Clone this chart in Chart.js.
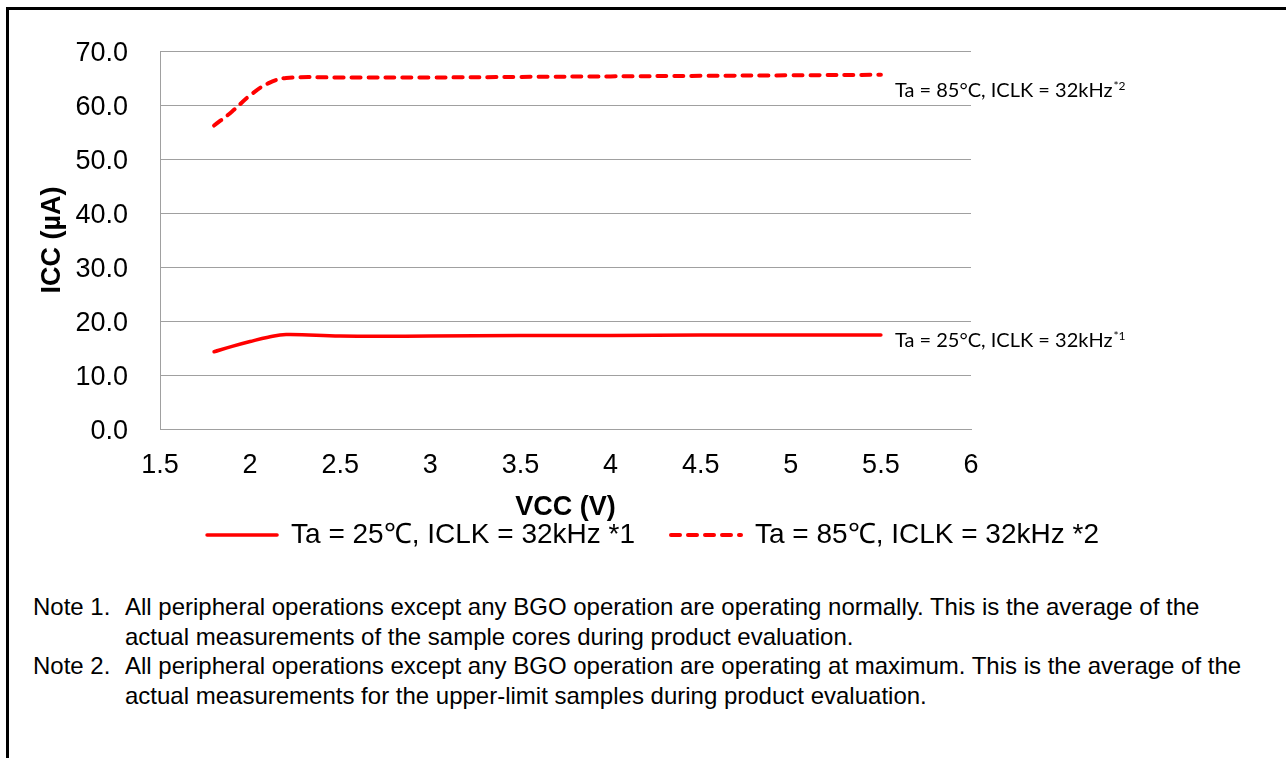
<!DOCTYPE html>
<html><head><meta charset="utf-8">
<script src="https://cdn.jsdelivr.net/npm/chart.js@4.4.1/dist/chart.umd.min.js"></script>
<style>
html,body{margin:0;padding:0;background:#fff;width:1286px;height:758px;overflow:hidden;}
#frame{position:absolute;left:6px;top:7px;width:1290px;height:760px;border-top:3px solid #000;border-left:3px solid #000;}
#wrap{position:absolute;left:0;top:0;width:1286px;height:559px;}
#notes{position:absolute;left:33px;top:592px;font-family:"Liberation Sans",Arial,sans-serif;font-size:24px;line-height:29.5px;color:#000;}
.note{display:flex;}
.note .lab{width:92px;flex:none;}
.note .txt{white-space:nowrap;}
</style></head>
<body>
<div id="frame"></div>
<div id="wrap"><canvas id="c" width="1286" height="559"></canvas></div>
<div id="notes">
<div class="note"><div class="lab">Note 1.</div><div class="txt">All peripheral operations except any BGO operation are operating normally. This is the average of the<br>actual measurements of the sample cores during product evaluation.</div></div>
<div class="note"><div class="lab">Note 2.</div><div class="txt">All peripheral operations except any BGO operation are operating at maximum. This is the average of the<br>actual measurements for the upper-limit samples during product evaluation.</div></div>
</div>
<script>
// ---- data ----
const vcc = [1.8, 1.9, 2.0, 2.1, 2.2, 2.5, 3.0, 3.5, 4.0, 4.5, 5.0, 5.5];
const icc25 = [14.3, 15.3, 16.2, 17.0, 17.5, 17.2, 17.2, 17.3, 17.3, 17.4, 17.4, 17.4];
const icc85 = [56.2, 58.8, 61.8, 64.0, 65.0, 65.1, 65.1, 65.2, 65.3, 65.4, 65.5, 65.6];
const legendLabels = ['Ta = 25\u2103, ICLK = 32kHz *1', 'Ta = 85\u2103, ICLK = 32kHz *2'];
const endLabelText = ['Ta = 25\u00B0C, ICLK = 32kHz', 'Ta = 85\u00B0C, ICLK = 32kHz'];
const endLabelSup = ['*1', '*2'];
const xTicks = ['1.5', '2', '2.5', '3', '3.5', '4', '4.5', '5', '5.5', '6'];
const yTicks = ['0.0', '10.0', '20.0', '30.0', '40.0', '50.0', '60.0', '70.0'];

Chart.defaults.font.family = '"Liberation Sans", Arial, sans-serif';
Chart.defaults.color = '#000';

const endLabels = {
  id: 'endLabels',
  afterDatasetsDraw(chart, args, opts) {
    const ctx = chart.ctx;
    chart.data.datasets.forEach((ds, i) => {
      const meta = chart.getDatasetMeta(i);
      const pt = meta.data[meta.data.length - 1];
      const off = opts.offsets[i];
      const x = pt.x + off[0], y = pt.y + off[1];
      ctx.save();
      ctx.fillStyle = '#000';
      ctx.textBaseline = 'alphabetic';
      ctx.textAlign = 'left';
      ctx.font = opts.font;
      ctx.fillText(endLabelText[i], x, y);
      const w = ctx.measureText(endLabelText[i]).width;
      ctx.font = opts.supFont;
      ctx.fillText(endLabelSup[i], x + w + 1, y - 7);
      ctx.restore();
    });
  }
};

const mk = (arr) => vcc.map((x, i) => ({x: x, y: arr[i]}));
const gridCol = '#a0a0a0';

new Chart(document.getElementById('c'), {
  type: 'line',
  data: {
    datasets: [
      {label: legendLabels[0], data: mk(icc25), borderColor: '#ff0000', backgroundColor: '#ff0000',
       borderWidth: 3.5, pointRadius: 0, tension: 0.4, fill: false, borderCapStyle: 'round'},
      {label: legendLabels[1], data: mk(icc85), borderColor: '#ff0000', backgroundColor: '#ff0000',
       borderWidth: 4, pointRadius: 0, tension: 0.4, fill: false, borderDash: [9, 8], borderCapStyle: 'round'}
    ]
  },
  options: {
    responsive: false, animation: false, devicePixelRatio: 1,
    layout: {padding: {left: 20, right: 0, top: 51, bottom: 0}},
    scales: {
      x: {
        type: 'linear', min: 1.5, max: 6,
        ticks: {stepSize: 0.5, font: {size: 27}, color: '#000', padding: 20,
          callback: (v, i) => xTicks[i]},
        grid: {display: false, drawTicks: false},
        border: {display: true, color: gridCol},
        title: {display: true, text: 'VCC (V)', font: {size: 27, weight: 'bold'}, color: '#000',
          padding: {top: 0, bottom: -38.7}},
        afterFit(s) { s.height = 56; }
      },
      y: {
        min: 0, max: 70,
        ticks: {stepSize: 10, font: {size: 27}, color: '#000', padding: 32, labelOffset: 3,
          callback: (v, i) => yTicks[i]},
        grid: {color: gridCol, drawTicks: false},
        border: {display: true, color: gridCol},
        title: {display: true, text: 'ICC (\u00B5A)', font: {size: 27, weight: 'bold'}, color: '#000',
          padding: {top: 16, bottom: 0}},
        afterFit(s) { s.width = 140; }
      },
      yR: {
        position: 'right', display: true,
        ticks: {display: false}, grid: {display: false}, border: {display: false},
        afterFit(s) { s.width = 315; }
      }
    },
    plugins: {
      tooltip: {enabled: false},
      legend: {
        position: 'bottom',
        labels: {
          usePointStyle: true, pointStyleWidth: 70, padding: 36,
          font: {size: 28}, color: '#000',
          generateLabels(chart) {
            return chart.data.datasets.map((ds, i) => ({
              text: ds.label, fillStyle: ds.borderColor, strokeStyle: ds.borderColor,
              lineWidth: ds.borderWidth, lineDash: ds.borderDash || [], lineCap: ds.borderCapStyle,
              pointStyle: 'line', hidden: false, datasetIndex: i, fontColor: '#000'
            }));
          }
        }
      },
      endLabels: {
        offsets: [[14, 12], [14, 22]],
        font: '20px Lato, "Noto Sans", sans-serif',
        supFont: '12px Lato, "Noto Sans", sans-serif'
      }
    }
  },
  plugins: [endLabels]
});
</script>
</body></html>
